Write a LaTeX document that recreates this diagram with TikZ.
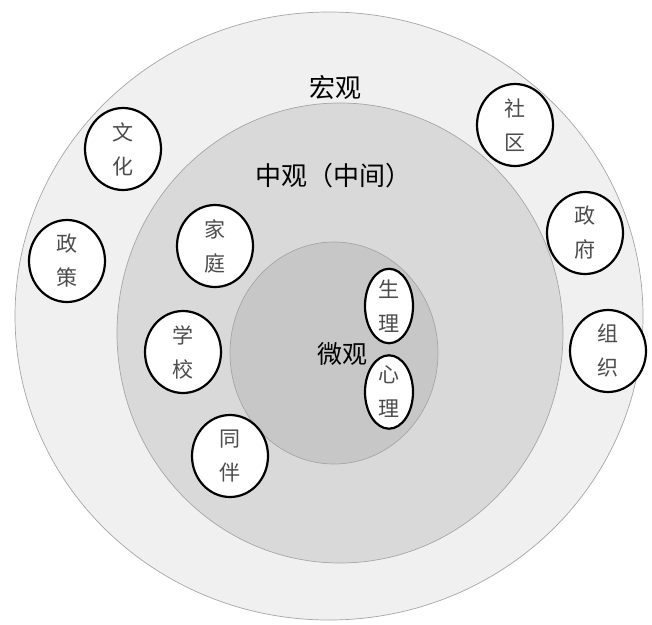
\documentclass[tikz,border=0pt]{standalone}
\usepackage{fontspec}
\newfontfamily\cjk{Noto Sans CJK SC}
\usetikzlibrary{shapes.geometric}

\begin{document}
\begin{tikzpicture}[x=1pt, y=-1pt,
  main/.style = {draw, ellipse, line width=2.2pt, fill=white, minimum width=76pt, minimum height=82pt, inner sep=0pt, align=center, text=black!70, font=\cjk\fontsize{21}{34}\selectfont},
  small/.style = {main, minimum width=48pt, minimum height=72pt},
  level/.style = {font=\cjk\fontsize{26}{30}\selectfont},
  ring/.style = {draw=gray!70, line width=0.7pt}]
\useasboundingbox (0,0) rectangle (652,624);
\fill[white] (0,0) rectangle (652,624);
% three levels
\filldraw[ring, fill=gray!12] (329,316) ellipse [x radius=314pt, y radius=304pt];
\filldraw[ring, fill=gray!30] (340,333) ellipse [x radius=223pt, y radius=230pt];
\filldraw[ring, fill=gray!44] (334,353) ellipse [x radius=104pt, y radius=111pt];
\node[level] (hongguan) at (335,88) {宏观};
\node[level] (zhongguan) at (333,176) {中观（中间）};
\node[level, font=\cjk\fontsize{25}{30}\selectfont] (weiguan) at (342,354) {微观};
% outer ring
\node[main] (wenhua) at (123,149) {文\\化};
\node[main] (shequ) at (515,125) {社\\区};
\node[main] (zhengce) at (67,261) {政\\策};
\node[main] (zhengfu) at (585,233) {政\\府};
\node[main] (zuzhi) at (608,351) {组\\织};
% middle ring
\node[main] (jiating) at (215,246) {家\\庭};
\node[main] (xuexiao) at (183,352) {学\\校};
\node[main] (tongban) at (230,456) {同\\伴};
% inner ring
\node[small] (shengli) at (389,306) {生\\理};
\node[small, minimum height=64pt] (xinli) at (389,392) {心\\理};
\end{tikzpicture}
\end{document}
